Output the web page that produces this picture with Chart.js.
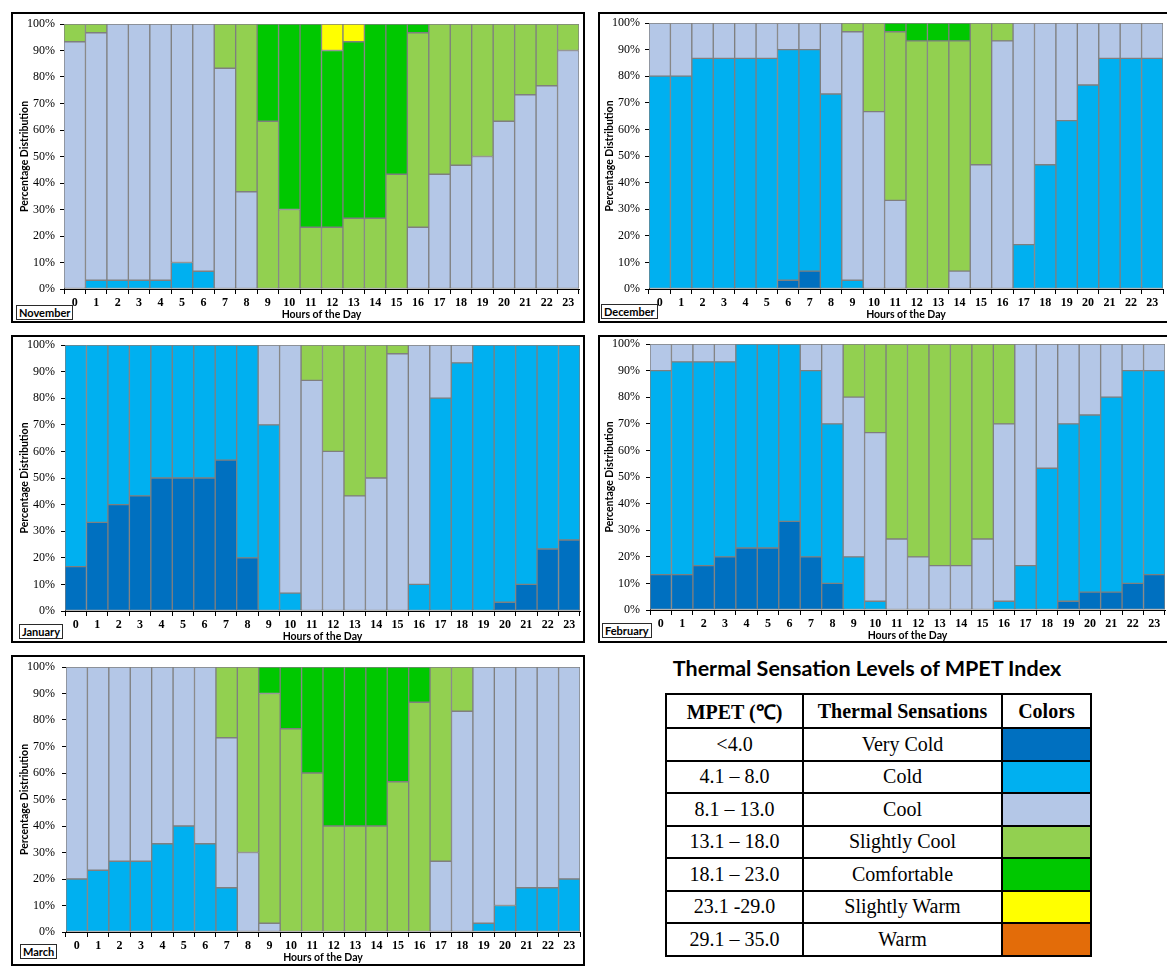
<!DOCTYPE html>
<html>
<head>
<meta charset="utf-8">
<script src="https://cdn.jsdelivr.net/npm/chart.js@4.4.1/dist/chart.umd.min.js"></script>
<style>
  body { margin: 0; background: #fff; width: 1167px; height: 967px; overflow: hidden; position: relative; }
  .frame { position: absolute; border: 2px solid #000; box-sizing: border-box; }
  canvas.panel { position: absolute; }
  .month { position: absolute; border: 1px solid #2a2a2a; background: #fff; color: #000;
           font: bold 11px Lato, "Liberation Sans", sans-serif; padding: 0 2px; line-height: 13px; }
  #legendTitle { position: absolute; left: 640px; top: 655px; width: 454px; text-align: center;
                 font: bold 21.5px Lato, "Liberation Sans", sans-serif; color: #000; }
  #legendTable { position: absolute; left: 665px; top: 693px; border-collapse: collapse;
                 font-family: "Liberation Serif", "Times New Roman", serif; font-size: 20px; color: #000; }
  #legendTable td, #legendTable th { border: 2px solid #000; text-align: center; padding: 0; }
  #legendTable th { height: 32px; font-weight: bold; }
  #legendTable td { height: 30.5px; }
</style>
</head>
<body>
<div id="legendTitle">Thermal Sensation Levels of MPET Index</div>
<table id="legendTable"></table>
<script>
// Hours of the day on the category axis
const hours = ['0','1','2','3','4','5','6','7','8','9','10','11','12','13','14','15','16','17','18','19','20','21','22','23'];

// Thermal sensation classes of the MPET index
const sensationNames = ['Very Cold', 'Cold', 'Cool', 'Slightly Cool', 'Comfortable', 'Slightly Warm', 'Warm'];
const sensationRanges = ['<4.0', '4.1 – 8.0', '8.1 – 13.0', '13.1 – 18.0', '18.1 – 23.0', '23.1 -29.0', '29.1 – 35.0'];
const sensationColors = ['#0070C0', '#00B0F0', '#B4C7E7', '#92D050', '#00C800', '#FFFF00', '#E36C09'];

// Y-axis ticks (percentage distribution)
const percentTicks = [0, 10, 20, 30, 40, 50, 60, 70, 80, 90, 100];

// November (% of days per hour)
const novCold         = [0, 3.3, 3.3, 3.3, 3.3, 10, 6.7, 0, 0, 0, 0, 0, 0, 0, 0, 0, 0, 0, 0, 0, 0, 0, 0, 0];
const novCool         = [93.3, 93.4, 96.7, 96.7, 96.7, 90, 93.3, 83.3, 36.7, 0, 0, 0, 0, 0, 0, 0, 23.3, 43.3, 46.7, 50, 63.3, 73.3, 76.7, 90];
const novSlightlyCool = [6.7, 3.3, 0, 0, 0, 0, 0, 16.7, 63.3, 63.3, 30, 23.3, 23.3, 26.7, 26.7, 43.3, 73.4, 56.7, 53.3, 50, 36.7, 26.7, 23.3, 10];
const novComfortable  = [0, 0, 0, 0, 0, 0, 0, 0, 0, 36.7, 70, 76.7, 66.7, 66.6, 73.3, 56.7, 3.3, 0, 0, 0, 0, 0, 0, 0];
const novSlightlyWarm = [0, 0, 0, 0, 0, 0, 0, 0, 0, 0, 0, 0, 10, 6.7, 0, 0, 0, 0, 0, 0, 0, 0, 0, 0];

// December
const decVeryCold     = [0, 0, 0, 0, 0, 0, 3.3, 6.7, 0, 0, 0, 0, 0, 0, 0, 0, 0, 0, 0, 0, 0, 0, 0, 0];
const decCold         = [80, 80, 86.7, 86.7, 86.7, 86.7, 86.7, 83.3, 73.3, 3.3, 0, 0, 0, 0, 0, 0, 0, 16.7, 46.7, 63.3, 76.7, 86.7, 86.7, 86.7];
const decCool         = [20, 20, 13.3, 13.3, 13.3, 13.3, 10, 10, 26.7, 93.4, 66.7, 33.3, 0, 0, 6.7, 46.7, 93.3, 83.3, 53.3, 36.7, 23.3, 13.3, 13.3, 13.3];
const decSlightlyCool = [0, 0, 0, 0, 0, 0, 0, 0, 0, 3.3, 33.3, 63.4, 93.3, 93.3, 86.6, 53.3, 6.7, 0, 0, 0, 0, 0, 0, 0];
const decComfortable  = [0, 0, 0, 0, 0, 0, 0, 0, 0, 0, 0, 3.3, 6.7, 6.7, 6.7, 0, 0, 0, 0, 0, 0, 0, 0, 0];

// January
const janVeryCold     = [16.7, 33.3, 40, 43.3, 50, 50, 50, 56.7, 20, 0, 0, 0, 0, 0, 0, 0, 0, 0, 0, 0, 3.3, 10, 23.3, 26.7];
const janCold         = [83.3, 66.7, 60, 56.7, 50, 50, 50, 43.3, 80, 70, 6.7, 0, 0, 0, 0, 0, 10, 80, 93.3, 100, 96.7, 90, 76.7, 73.3];
const janCool         = [0, 0, 0, 0, 0, 0, 0, 0, 0, 30, 93.3, 86.7, 60, 43.3, 50, 96.7, 90, 20, 6.7, 0, 0, 0, 0, 0];
const janSlightlyCool = [0, 0, 0, 0, 0, 0, 0, 0, 0, 0, 0, 13.3, 40, 56.7, 50, 3.3, 0, 0, 0, 0, 0, 0, 0, 0];

// February
const febVeryCold     = [13.3, 13.3, 16.7, 20, 23.3, 23.3, 33.3, 20, 10, 0, 0, 0, 0, 0, 0, 0, 0, 0, 0, 3.3, 6.7, 6.7, 10, 13.3];
const febCold         = [76.7, 80, 76.6, 73.3, 76.7, 76.7, 66.7, 70, 60, 20, 3.3, 0, 0, 0, 0, 0, 3.3, 16.7, 53.3, 66.7, 66.6, 73.3, 80, 76.7];
const febCool         = [10, 6.7, 6.7, 6.7, 0, 0, 0, 10, 30, 60, 63.4, 26.7, 20, 16.7, 16.7, 26.7, 66.7, 83.3, 46.7, 30, 26.7, 20, 10, 10];
const febSlightlyCool = [0, 0, 0, 0, 0, 0, 0, 0, 0, 20, 33.3, 73.3, 80, 83.3, 83.3, 73.3, 30, 0, 0, 0, 0, 0, 0, 0];

// March
const marCold         = [20, 23.3, 26.7, 26.7, 33.3, 40, 33.3, 16.7, 0, 0, 0, 0, 0, 0, 0, 0, 0, 0, 0, 3.3, 10, 16.7, 16.7, 20];
const marCool         = [80, 76.7, 73.3, 73.3, 66.7, 60, 66.7, 56.6, 30, 3.3, 0, 0, 0, 0, 0, 0, 0, 26.7, 83.3, 96.7, 90, 83.3, 83.3, 80];
const marSlightlyCool = [0, 0, 0, 0, 0, 0, 0, 26.7, 70, 86.7, 76.7, 60, 40, 40, 40, 56.7, 86.7, 73.3, 16.7, 0, 0, 0, 0, 0];
const marComfortable  = [0, 0, 0, 0, 0, 0, 0, 0, 0, 10, 23.3, 40, 60, 60, 60, 43.3, 13.3, 0, 0, 0, 0, 0, 0, 0];

// Each panel: month name, its series (keyed by sensation index) and where it sits on the page
const panels = [
  { month: 'November', series: { 1: novCold, 2: novCool, 3: novSlightlyCool, 4: novComfortable, 5: novSlightlyWarm },
    frame: [11, 12, 574, 311], canvasLeft: 13, plot: [64, 24, 579, 289], yTitleX: 24, yLabelRight: 55, tag: [16, 305] },
  { month: 'December', series: { 0: decVeryCold, 1: decCold, 2: decCool, 3: decSlightlyCool, 4: decComfortable },
    frame: [598, 12, 600, 311], canvasLeft: 600, plot: [649, 23, 1163, 289], yTitleX: 609, yLabelRight: 640, tag: [601, 304] },
  { month: 'January', series: { 0: janVeryCold, 1: janCold, 2: janCool, 3: janSlightlyCool },
    frame: [11, 335, 574, 308], canvasLeft: 13, plot: [65, 345, 580, 611], yTitleX: 24, yLabelRight: 55, tag: [19, 624] },
  { month: 'February', series: { 0: febVeryCold, 1: febCold, 2: febCool, 3: febSlightlyCool },
    frame: [598, 335, 600, 308], canvasLeft: 600, plot: [650, 344, 1165, 610], yTitleX: 609, yLabelRight: 640, tag: [602, 623] },
  { month: 'March', series: { 1: marCold, 2: marCool, 3: marSlightlyCool, 4: marComfortable },
    frame: [11, 655, 574, 311], canvasLeft: 13, plot: [66, 667, 580, 932], yTitleX: 24, yLabelRight: 55, tag: [20, 944] }
];

const TICK_LEN_Y = 4;
const TICK_LEN_X = 5;
const X_AXIS_H = 34;
const PAD_TOP = 18;
const PAD_RIGHT = 2;

function addBox(cls, left, top, w, h) {
  const d = document.createElement('div');
  d.className = cls;
  d.style.left = left + 'px';
  d.style.top = top + 'px';
  if (w != null) d.style.width = w + 'px';
  if (h != null) d.style.height = h + 'px';
  document.body.appendChild(d);
  return d;
}

panels.forEach(p => {
  addBox('frame', p.frame[0], p.frame[1], p.frame[2], p.frame[3]);

  const [pl, pt, pr, pb] = p.plot;
  const cl = p.canvasLeft;
  const ct = pt - PAD_TOP;
  const canvas = document.createElement('canvas');
  canvas.className = 'panel';
  canvas.width = pr + PAD_RIGHT - cl;
  canvas.height = pb + X_AXIS_H - ct;
  canvas.style.left = cl + 'px';
  canvas.style.top = ct + 'px';
  document.body.appendChild(canvas);

  const yAxisWidth = pl - cl;
  const datasets = Object.keys(p.series).map(k => ({
    label: sensationNames[k],
    data: p.series[k],
    backgroundColor: sensationColors[k],
    borderColor: '#7F7F7F',
    borderWidth: 1,
    borderSkipped: false,
    barPercentage: 1,
    categoryPercentage: 1
  }));

  new Chart(canvas, {
    type: 'bar',
    data: { labels: hours, datasets },
    options: {
      responsive: false,
      animation: false,
      devicePixelRatio: 1,
      layout: { padding: { left: 0, top: PAD_TOP, right: PAD_RIGHT, bottom: 0 } },
      plugins: { legend: { display: false }, tooltip: { enabled: false } },
      scales: {
        x: {
          stacked: true,
          z: 1,
          border: { display: true, color: '#000', width: 1 },
          grid: { offset: true, drawOnChartArea: false, drawTicks: true, tickLength: TICK_LEN_X, color: '#000' },
          ticks: { color: '#000', padding: 2, autoSkip: false, maxRotation: 0,
                   font: { family: '"Liberation Serif", "Times New Roman", serif', weight: 'bold', size: 12 } },
          title: { display: true, text: 'Hours of the Day', color: '#000', padding: { top: 0, bottom: 2 },
                   font: { family: 'Lato, "Liberation Sans", sans-serif', weight: 'bold', size: 10.5, lineHeight: 1.2 } },
          afterFit(scale) { scale.height = X_AXIS_H; }
        },
        y: {
          stacked: true,
          z: 1,
          min: percentTicks[0],
          max: percentTicks[percentTicks.length - 1],
          border: { display: true, color: '#000', width: 1 },
          grid: { drawOnChartArea: false, drawTicks: true, tickLength: TICK_LEN_Y, color: '#000' },
          afterBuildTicks(scale) { scale.ticks = percentTicks.map(v => ({ value: v })); },
          ticks: { color: '#000', padding: pl - TICK_LEN_Y - p.yLabelRight,
                   callback: v => v + '%',
                   font: { family: '"Liberation Serif", "Times New Roman", serif', size: 12 } },
          title: { display: true, text: 'Percentage Distribution', color: '#000',
                   padding: { top: p.yTitleX - cl - 6, bottom: 0 },
                   font: { family: 'Lato, "Liberation Sans", sans-serif', weight: 'bold', size: 10.5, lineHeight: 1.2 } },
          afterFit(scale) { scale.width = yAxisWidth; }
        }
      }
    }
  });

  const tag = addBox('month', p.tag[0], p.tag[1]);
  tag.textContent = p.month;
});

// Legend table of MPET classes
const table = document.getElementById('legendTable');
const colWidths = [135, 197, 87];
const head = document.createElement('tr');
['MPET (℃)', 'Thermal Sensations', 'Colors'].forEach((t, i) => {
  const th = document.createElement('th');
  th.textContent = t;
  th.style.width = colWidths[i] + 'px';
  head.appendChild(th);
});
table.appendChild(head);
sensationNames.forEach((name, i) => {
  const tr = document.createElement('tr');
  const c1 = document.createElement('td'); c1.textContent = sensationRanges[i];
  const c2 = document.createElement('td'); c2.textContent = name;
  const c3 = document.createElement('td'); c3.style.background = sensationColors[i];
  tr.append(c1, c2, c3);
  table.appendChild(tr);
});
</script>
</body>
</html>
